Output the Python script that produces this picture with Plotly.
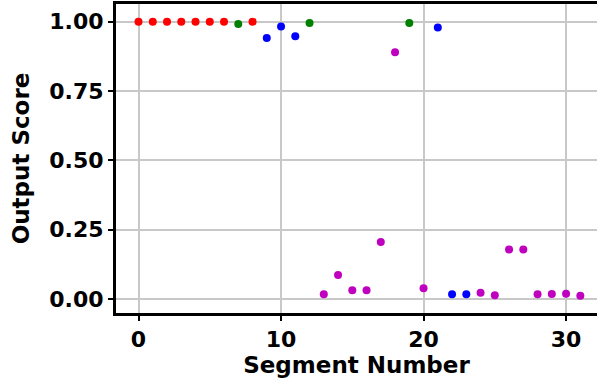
import plotly.graph_objects as go

# Data
topk_abn_x = [0, 1, 2, 3, 4, 5, 6, 8]
topk_abn_y = [1.0, 1.0, 1.0, 1.0, 1.0, 1.0, 1.0, 1.0]

topk_norm_x = [7, 12, 19]
topk_norm_y = [0.992, 0.995, 0.995]

abn_x = [9, 10, 11, 21, 22, 23]
abn_y = [0.941, 0.983, 0.947, 0.979, 0.017, 0.017]

norm_x = [13, 14, 15, 16, 17, 18, 20, 24, 25, 26, 27, 28, 29, 30, 31]
norm_y = [0.017, 0.087, 0.032, 0.032, 0.206, 0.890, 0.039, 0.023, 0.014,
          0.179, 0.179, 0.017, 0.018, 0.019, 0.012]

series = [
    ("topk abnormal", topk_abn_x, topk_abn_y, "#ff0000"),
    ("topk normal", topk_norm_x, topk_norm_y, "#008000"),
    ("abnormal", abn_x, abn_y, "#0000ff"),
    ("normal", norm_x, norm_y, "#bf00bf"),
]

x_ticks = [0, 10, 20, 30]
y_ticks = [0.0, 0.25, 0.5, 0.75, 1.0]

fig = go.Figure()
for name, xs, ys, col in series:
    fig.add_trace(go.Scatter(x=xs, y=ys, mode="markers", name=name, showlegend=False,
                             marker=dict(color=col, size=8, line=dict(width=0))))

plot_w = 597 - 116
plot_h = 384 - 4 - 71
bold = dict(family="DejaVu Sans", size=22, color="black", weight="bold")
fig.update_layout(
    width=597, height=384,
    margin=dict(l=116, r=0, t=4, b=71),
    plot_bgcolor="white", paper_bgcolor="white",
    showlegend=False,
    xaxis=dict(range=[-1.58, 32.17], tickvals=x_ticks, ticktext=[str(v) for v in x_ticks],
               showline=True, linecolor="black", linewidth=3, mirror=True,
               showgrid=True, gridcolor="#c8c8c8", gridwidth=1.5, zeroline=False,
               ticks="outside", ticklen=5, tickwidth=1.5, tickcolor="black",
               tickfont=bold, title=dict(text="Segment Number", font=dict(bold, size=23), standoff=6)),
    yaxis=dict(range=[-0.0504, 1.0637], tickvals=y_ticks, tickformat=".2f",
               showline=True, linecolor="black", linewidth=3, mirror=False,
               showgrid=True, gridcolor="#c8c8c8", gridwidth=1.5, zeroline=False,
               ticks="outside", ticklen=5, tickwidth=1.5, tickcolor="black",
               tickfont=bold, title=dict(text="Output Score", font=dict(bold, size=23), standoff=14)),
)

fig.write_html("out.html")
